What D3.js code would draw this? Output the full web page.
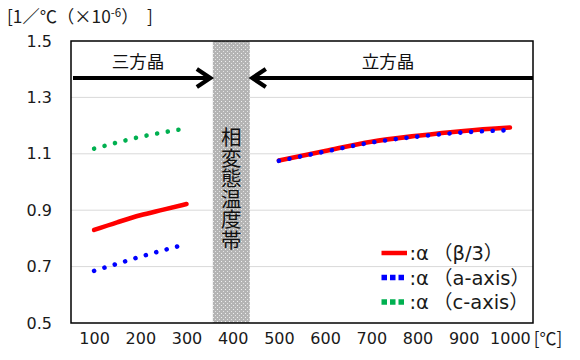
<!DOCTYPE html>
<html><head><meta charset="utf-8">
<script src="https://cdn.jsdelivr.net/npm/d3@7"></script>
<style>
html,body{margin:0;padding:0;background:#fff;}
svg{display:block;font-family:"DejaVu Sans","Noto Sans CJK JP",sans-serif;}
</style></head>
<body>
<svg id="chart" width="580" height="360"></svg>
<script>
// ---- data ----
const xTicks = [100,200,300,400,500,600,700,800,900,1000];
const yTicks = [0.5,0.7,0.9,1.1,1.3,1.5];
const trigT = [100,150,200,250,300];
const trigBeta = [0.830,0.857,0.882,0.902,0.922];
const trigA = [0.685,0.710,0.735,0.758,0.780];
const trigC = [1.118,1.140,1.160,1.176,1.190];
const cubT = [500,600,700,800,900,1000];
const cubBeta = [1.076,1.110,1.143,1.164,1.181,1.193];
const cubA = [1.075,1.108,1.140,1.161,1.176,1.184];
const phaseBand = [357,437];
const bandLabel = "相変態温度帯";
const phaseLabels = [{text:"三方晶", t:195}, {text:"立方晶", t:736}];
const yTitle = ["[1／℃（×10", "-6", "）　]"];
const xUnit = "[℃]";
const legendItems = [
  {sym:":α", label:"（β/3）", color:"#ff0000", dash:null},
  {sym:":α", label:"（a-axis）", color:"#0000ff", dash:"5.5,3"},
  {sym:":α", label:"（c-axis）", color:"#00b050", dash:"5.5,3"}
];

const svg = d3.select("#chart");
const L=71, R=533, T=41, B=323;
const x = d3.scaleLinear().domain([50,1050]).range([L,R]);
const y = d3.scaleLinear().domain([0.5,1.5]).range([B,T]);
const txt = "#1a1a1a";

// pattern for band
const defs = svg.append("defs");
const pat = defs.append("pattern").attr("id","dots").attr("patternUnits","userSpaceOnUse")
  .attr("width",4).attr("height",4);
pat.append("rect").attr("width",4).attr("height",4).attr("fill","#b4b4b4");
pat.append("rect").attr("x",1).attr("y",1).attr("width",1).attr("height",1).attr("fill","#f0f0f0");
pat.append("rect").attr("x",3).attr("y",3).attr("width",1).attr("height",1).attr("fill","#e4e4e4");

// gridlines
svg.append("g").selectAll("line").data(yTicks.filter(v=>v>0.5&&v<1.5)).join("line")
  .attr("x1",L).attr("x2",R).attr("y1",d=>y(d)).attr("y2",d=>y(d))
  .attr("stroke","#d9d9d9").attr("stroke-width",1);

// band
svg.append("rect").attr("x",x(phaseBand[0])).attr("y",T)
  .attr("width",x(phaseBand[1])-x(phaseBand[0])).attr("height",B-T)
  .attr("fill","url(#dots)");

// band text (vertical)
const bx = (x(phaseBand[0])+x(phaseBand[1]))/2;
svg.append("text")
  .attr("x",bx).attr("y",127)
  .attr("writing-mode","vertical-rl")
  .style("writing-mode","vertical-rl")
  .attr("font-size",20.5)
  .attr("font-family","Noto Sans CJK JP").attr("fill","#111")
  .text(bandLabel);

// axes
const yAxis = d3.axisLeft(y).tickValues(yTicks).tickSize(0).tickPadding(19).tickFormat(d3.format(".1f"));
const gy = svg.append("g").attr("transform",`translate(${L},0)`).call(yAxis);
gy.select(".domain").remove();
gy.selectAll("text").attr("font-size",16).attr("fill",txt).attr("font-family","DejaVu Sans");

const xAxis = d3.axisBottom(x).tickValues(xTicks).tickSize(0).tickPadding(10).tickFormat(d3.format("d"));
const gx = svg.append("g").attr("transform",`translate(0,${B})`).call(xAxis);
gx.select(".domain").remove();
gx.selectAll("text").attr("font-size",16).attr("fill",txt).attr("font-family","DejaVu Sans");

svg.append("text").attr("x",548).attr("y",345).attr("text-anchor","middle")
  .attr("font-size",17).attr("font-family","Noto Sans CJK JP").attr("fill",txt).text(xUnit);

// y title
const yt = svg.append("text").attr("x",7).attr("y",23).attr("font-size",17.3)
  .attr("font-family","Noto Sans CJK JP").attr("fill",txt);
yt.append("tspan").text(yTitle[0]);
yt.append("tspan").attr("font-size",11.5).attr("dy",-6).text(yTitle[1]);
yt.append("tspan").attr("dy",6).text(yTitle[2]);

// lines
const line = d3.line().x(d=>x(d[0])).y(d=>y(d[1])).curve(d3.curveMonotoneX);
function draw(ts, vs, color, dotted){
  const p = svg.append("path").datum(ts.map((t,i)=>[t,vs[i]]))
    .attr("d",line).attr("fill","none").attr("stroke",color)
    .attr("stroke-width",4.6).attr("stroke-linecap","round");
  if(dotted) p.attr("stroke-dasharray","0.01,10.8");
}
draw(trigT,trigBeta,"#ff0000",false);
draw(cubT,cubBeta,"#ff0000",false);
draw(trigT,trigA,"#0000ff",true);
draw(trigT,trigC,"#00b050",true);
draw(cubT,cubA,"#0000ff",true);

// plot border
svg.append("rect").attr("x",L).attr("y",T).attr("width",R-L).attr("height",B-T)
  .attr("fill","none").attr("stroke","#000").attr("stroke-width",1.5);

// arrows
const ay = 78;
const arr = svg.append("g").attr("stroke","#000").attr("stroke-width",4.2).attr("fill","none");
const tipL = x(phaseBand[0])-1, tipR = x(phaseBand[1])+1;
arr.append("line").attr("x1",L+2).attr("x2",tipL-2).attr("y1",ay).attr("y2",ay);
arr.append("path").attr("d",`M${tipL-15},${ay-9}L${tipL-1.5},${ay}L${tipL-15},${ay+9}`).attr("stroke-linejoin","miter");
arr.append("line").attr("x1",tipR+2).attr("x2",R).attr("y1",ay).attr("y2",ay);
arr.append("path").attr("d",`M${tipR+15},${ay-9}L${tipR+1.5},${ay}L${tipR+15},${ay+9}`).attr("stroke-linejoin","miter");

svg.selectAll(".phase").data(phaseLabels).join("text")
  .attr("class","phase")
  .attr("x",d=>x(d.t)).attr("y",68).attr("text-anchor","middle")
  .attr("font-size",17.5).attr("font-family","Noto Sans CJK JP").attr("fill","#111")
  .text(d=>d.text);

// legend
const lg = svg.append("g");
legendItems.forEach((d,i)=>{
  const ly = 253 + i*24.5;
  const l = lg.append("line").attr("x1",381.5).attr("x2",407).attr("y1",ly).attr("y2",ly)
    .attr("stroke",d.color).attr("stroke-width",d.dash?5.5:4.5);
  if(d.dash) l.attr("stroke-dasharray",d.dash);
  const t = lg.append("text").attr("x",409.5).attr("y",ly+7).attr("font-size",19.5).attr("fill",txt);
  t.append("tspan").text(d.sym);
  t.append("tspan").attr("dx",4).text(d.label);
});
</script>
</body></html>
